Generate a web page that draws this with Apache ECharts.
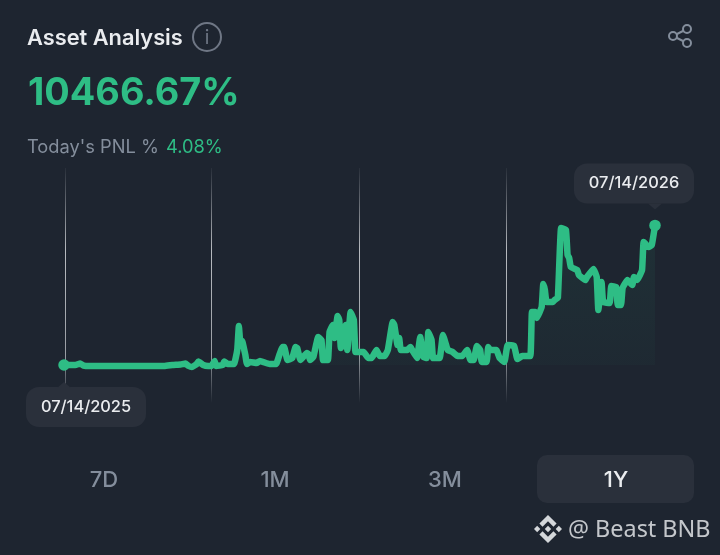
<!DOCTYPE html>
<html><head><meta charset="utf-8">
<style>html,body{margin:0;padding:0;background:#1e2530}#c{width:720px;height:555px}</style>
<script src="https://cdn.jsdelivr.net/npm/echarts@6/dist/echarts.min.js"></script>
</head><body><div id="c"></div>
<script>
var days=[0,7,10,12,16,22,41,62,67,72,75,77,79,82,83,86,89,91,93,94,98,99,101,105,107,108,109,110,112,113,115,119,121,127,131,133,135,136,138,141,143,144,146,150,151,152,154,157,159,160,163,164,166,167,169,170,171,174,175,177,179,180,182,185,188,190,193,195,198,200,203,204,206,207,208,212,214,215,218,220,222,224,225,227,228,232,234,236,237,240,243,246,249,251,253,255,257,258,261,262,263,267,269,272,274,278,280,283,288,289,291,292,295,296,297,298,302,303,305,307,310,311,312,313,317,318,322,323,327,329,330,332,333,337,338,341,342,344,345,348,351,352,354,357,358,361,363,365];
var pnl=[0,0,110,-40,-75,-75,-75,-75,0,40,110,-75,-150,75,260,0,-75,-75,300,-75,0,260,75,75,1125,2925,1500,1800,750,75,225,150,300,75,75,750,1350,1350,375,525,1350,1275,375,900,825,375,600,2100,1875,375,375,2475,3000,2025,3675,3375,1275,3000,1125,3975,3375,975,975,975,525,525,1125,675,675,1125,3225,3000,1500,2025,1125,1125,1350,1125,525,2100,600,525,2475,1875,525,525,2250,1500,1125,975,675,675,1125,375,375,1425,1125,225,225,1350,1125,1125,525,225,1500,1425,450,675,675,3975,3975,3525,4350,6075,5625,4725,4725,4875,5025,10275,10125,8250,8025,7350,7125,6750,6375,6600,7200,6600,4125,6225,4725,4650,5925,5850,4500,4500,5775,6375,6000,6600,6375,7125,9225,8850,9000,10467];
var guideDays=[0.5,91,182,273];
var dateLabels=['07/14/2025','07/14/2026'];
var rangeLabels=['7D','1M','3M','1Y'];
var GREEN='#2ebd85',GRAY='#848e9c',PANEL='#2a303b',LIGHT='#eaecef',FONT='Inter, "Open Sans", sans-serif';
var line=days.map(function(d,i){return [d,pnl[i]];});
var last=line.length-1;
var callouts=[[0,pnl[0],dateLabels[0],1],[365,pnl[last],dateLabels[1],-1]];
var guideData=guideDays.map(function(d){return [d];});
var logoParts=[
 [[38.73,53.2],[63.31,28.62],[87.91,53.22],[102.21,38.91],[63.31,0],[24.42,38.9]],
 [[0,63.31],[14.3,49],[28.61,63.31],[14.3,77.61]],
 [[38.73,73.41],[63.31,97.99],[87.91,73.39],[102.22,87.68],[63.32,126.59],[24.41,87.71]],
 [[98,63.31],[112.3,49],[126.61,63.3],[112.3,77.62]],
 [[77.83,63.3],[63.31,48.78],[48.81,63.27],[63.31,77.79]]
];
function txt(x,y,t,size,weight,color,align,family){return {type:'text',x:x,y:y,silent:true,style:{text:t,fontSize:size,fontWeight:weight,fill:color,fontFamily:family||FONT,textAlign:align||'left',textVerticalAlign:'middle'}};}
var rangeX=[104,275,445,616];
var gfx=[
 txt(27,38,'Asset Analysis',21.8,600,LIGHT),
 {type:'circle',shape:{cx:207,cy:37,r:14},silent:true,style:{fill:'none',stroke:'#6f7785',lineWidth:2}},
 txt(207,38,'i',19,400,'#6f7785','center'),
 txt(28,94,'10466.67%',37.8,700,GREEN),
 txt(27,148,"Today's PNL %",18.3,400,GRAY),
 txt(166,148,'4.08%',18.3,400,GREEN),
 {type:'line',shape:{x1:673,y1:36,x2:687,y2:29},silent:true,style:{stroke:GRAY,lineWidth:2}},
 {type:'line',shape:{x1:673,y1:36,x2:687,y2:43},silent:true,style:{stroke:GRAY,lineWidth:2}},
 {type:'circle',shape:{cx:673,cy:36,r:4},silent:true,style:{fill:'#1e2530',stroke:GRAY,lineWidth:2}},
 {type:'circle',shape:{cx:687,cy:29,r:4},silent:true,style:{fill:'#1e2530',stroke:GRAY,lineWidth:2}},
 {type:'circle',shape:{cx:687,cy:43,r:4},silent:true,style:{fill:'#1e2530',stroke:GRAY,lineWidth:2}},
 {type:'rect',shape:{x:537,y:455,width:157,height:48,r:10},silent:true,style:{fill:PANEL}},
 txt(568,530,'@ Beast BNB',23.4,400,'#c4c7cb','left','"Noto Sans", sans-serif')
];
logoParts.forEach(function(pts){gfx.push({type:'polygon',x:534,y:515,scaleX:0.2211,scaleY:0.2211,silent:true,shape:{points:pts},style:{fill:'#d4d7da'}});});
rangeLabels.forEach(function(l,i){gfx.push(txt(rangeX[i],480,l,22,500,i===3?LIGHT:GRAY,'center'));});
var chart=echarts.init(document.getElementById('c'),null,{renderer:'canvas'});
chart.setOption({
 animation:false,backgroundColor:'#1e2530',
 grid:{left:64,top:168,width:591,height:235},
 xAxis:{type:'value',min:0,max:365,show:false},
 yAxis:{type:'value',min:-2850,max:14775,show:false},
 graphic:gfx,
 series:[
 {type:'custom',coordinateSystem:'cartesian2d',silent:true,z:1,data:guideData,encode:{x:0},
  renderItem:function(p,api){var x=api.coord([api.value(0),0])[0],t=p.coordSys.y,h=p.coordSys.height;
   return {type:'rect',shape:{x:Math.round(x),y:t,width:1,height:h},style:{fill:new echarts.graphic.LinearGradient(0,0,0,1,[{offset:0,color:'rgba(234,236,239,0.05)'},{offset:0.35,color:'rgba(234,236,239,0.75)'},{offset:0.8,color:'rgba(234,236,239,0.6)'},{offset:1,color:'rgba(234,236,239,0)'}])}};}},
 {type:'line',data:line,z:3,silent:true,smooth:0.1,
  showSymbol:true,showAllSymbol:true,symbol:'circle',
  symbolSize:function(v,p){return (p.dataIndex===0||p.dataIndex===last)?11.5:0;},
  itemStyle:{color:GREEN},
  lineStyle:{color:GREEN,width:6.5,cap:'round',join:'round'},
  areaStyle:{origin:0,color:new echarts.graphic.LinearGradient(0,0,0,1,[{offset:0,color:'rgba(46,189,133,0.11)'},{offset:1,color:'rgba(46,189,133,0.04)'}])}},
 {type:'custom',coordinateSystem:'cartesian2d',silent:true,z:5,data:callouts,encode:{x:0,y:1},
  renderItem:function(p,api){
   var c=api.coord([api.value(0),api.value(1)]),dir=api.value(3),label=dateLabels[p.dataIndex];
   var w=120,h=40,bx=dir>0?c[0]-38:c[0]-81;
   var tip=dir>0?c[1]+17:c[1]-16;
   var by=dir>0?tip+5:tip-46;
   var base=dir>0?tip+6:tip-6;
   return {type:'group',children:[
    {type:'rect',shape:{x:bx,y:by,width:w,height:h,r:13},style:{fill:PANEL}},
    {type:'polygon',shape:{points:[[c[0]-7,base],[c[0]+7,base],[c[0],tip]]},style:{fill:PANEL}},
    {type:'text',x:bx+w/2,y:by+h/2,style:{text:label,fontSize:16.4,fontWeight:500,fill:LIGHT,fontFamily:FONT,textAlign:'center',textVerticalAlign:'middle'}}
   ]};}}
 ]
});
</script></body></html>
